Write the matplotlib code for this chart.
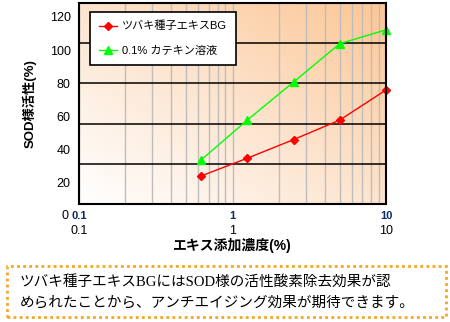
import numpy as np
import matplotlib
matplotlib.use("Agg")
import matplotlib.pyplot as plt
from matplotlib.patches import Rectangle
from matplotlib.colors import LinearSegmentedColormap
import matplotlib.transforms as mtrans
from matplotlib.ticker import NullLocator, LogLocator

plt.rcParams['font.family'] = ['Liberation Sans', 'Noto Sans CJK JP']

# ---- data ----
concentration = [0.625, 1.25, 2.5, 5, 10]
tsubaki_bg = [24.2, 34.9, 46.1, 57.9, 76.0]
catechin = [33.9, 57.9, 80.8, 103.9, 112.2]
series_names = ["ツバキ種子エキスBG", "0.1% カテキン溶液"]
y_ticks = [20, 40, 60, 80, 100, 120]
x_ticks = [0.1, 1, 10]
x_tick_labels = ["0.1", "1", "10"]
grid_ticks = [20, 40, 60, 80]
x_label = "エキス添加濃度(%)"
y_label = "SOD様活性(%)"
note_lines = ["ツバキ種子エキスBGにはSOD様の活性酸素除去効果が認",
              "められたことから、アンチエイジング効果が期待できます。"]

W, H = 450, 322
fig = plt.figure(figsize=(W / 100, H / 100), dpi=100)

L, R, T, B = 79, 386, 3, 204
pos = [L / W, 1 - B / H, (R - L) / W, (B - T) / H]

# background gradient
bg = fig.add_axes(pos, zorder=0)
cmap = LinearSegmentedColormap.from_list("peach", ["#FFFFFF", "#FDE4CE", "#FCC694"])
gx, gy = np.meshgrid(np.linspace(0, 1, 200), np.linspace(0, 1, 200))
bg.imshow((gx + gy) / 2, cmap=cmap, origin="lower", extent=[0, 1, 0, 1],
          aspect="auto", vmin=0, vmax=1, interpolation="bilinear")
bg.set_axis_off()

# grid axes
gax = fig.add_axes(pos, zorder=1)
gax.patch.set_visible(False)
gax.set_xscale("log")
gax.set_xlim(0.1, 10)
gax.set_ylim(0, 100)
gax.set_yticks(grid_ticks)
gax.xaxis.set_minor_locator(LogLocator(base=10, subs=np.arange(2, 10)))
gax.grid(True, axis="x", which="both", color="#BDBDBD", lw=1.0)
gax.grid(True, axis="y", which="major", color="black", lw=1.1)
gax.tick_params(which="both", length=0, labelleft=False, labelbottom=False)
for s in gax.spines.values():
    s.set_visible(False)

# main axes
ax = fig.add_axes(pos, zorder=2)
ax.patch.set_visible(False)
ax.set_xscale("log")
ax.set_xlim(0.1, 10)
ax.set_ylim(7.3, 128.4)
ax.set_yticks(y_ticks)
ax.set_xticks(x_ticks, labels=x_tick_labels)
ax.xaxis.set_minor_locator(NullLocator())
ax.tick_params(axis="both", which="both", length=0, labelsize=9)
ax.tick_params(axis="y", pad=6)
ax.tick_params(axis="x", pad=15)
for s in ax.spines.values():
    s.set_color("black")
    s.set_linewidth(1.5)

ax.plot(concentration, tsubaki_bg, color="#FF0000", lw=1, marker="D", ms=4.5,
        label=series_names[0], clip_on=False)
ax.plot(concentration, catechin, color="#00FF00", lw=1, marker="^", ms=6,
        label=series_names[1], clip_on=False)

# bold tick labels (secondary axis)
sec = ax.secondary_xaxis("bottom")
sec.set_xticks(x_ticks, labels=x_tick_labels)
sec.xaxis.set_minor_locator(NullLocator())
sec.tick_params(length=0, pad=5, labelsize=8, labelcolor="#0B2B5E")
for lbl in sec.get_xticklabels():
    lbl.set_fontweight("bold")
for s in sec.spines.values():
    s.set_visible(False)

# "0" label for y axis
off = mtrans.ScaledTranslation(-10 / 100, 0, fig.dpi_scale_trans)
ax.text(x_ticks[0], 0, "0", transform=ax.transData + off, ha="right", va="center",
        fontsize=9, clip_on=False)

ax.set_xlabel(x_label, fontsize=10, fontweight="bold", labelpad=1)
ax.set_ylabel(y_label, fontsize=9.5, fontweight="bold", labelpad=9)

leg = ax.legend(loc="upper left", bbox_to_anchor=(90 / W, 1 - 12 / H),
                bbox_transform=fig.transFigure, fontsize=8, frameon=True,
                fancybox=False, edgecolor="black", borderpad=0.8,
                labelspacing=1.3, handlelength=1.6, handletextpad=0.45,
                borderaxespad=0)
leg.get_frame().set_linewidth(1.2)
leg.get_frame().set_facecolor("white")
leg.get_frame().set_alpha(1)

# note box
box = Rectangle((7 / W, 1 - 317 / H), (446 - 7) / W, (317 - 266) / H,
                transform=fig.transFigure, fill=False, edgecolor="#F5A623",
                lw=2, linestyle=(0, (1, 1.2)))
fig.add_artist(box)
fam = ["Liberation Serif", "Noto Sans CJK JP"]
fig.text(20 / W, 1 - 282 / H, note_lines[0], ha="left", va="center",
         fontsize=10.5, family=fam)
fig.text(20 / W, 1 - 303 / H, note_lines[1], ha="left", va="center",
         fontsize=10.5, family=fam)

fig.savefig("out.png", dpi=100)
